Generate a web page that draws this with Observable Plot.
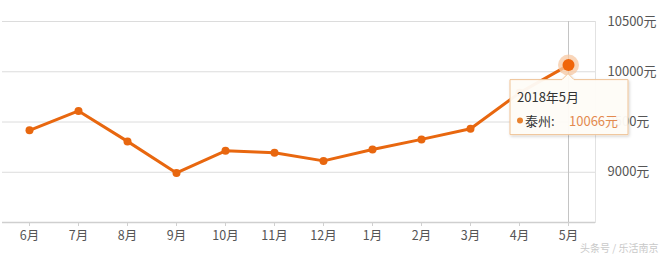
<!DOCTYPE html>
<html>
<head>
<meta charset="utf-8">
<script src="https://cdn.jsdelivr.net/npm/d3@7"></script>
<script src="https://cdn.jsdelivr.net/npm/@observablehq/plot@0.6"></script>
<style>
  html, body { margin: 0; padding: 0; background: #fff; }
  #chart { width: 663px; height: 254px; }
  svg { font-family: "Noto Sans CJK SC", "Noto Sans", sans-serif; }
</style>
</head>
<body>
<div id="chart"></div>
<script>
const months = ["6月","7月","8月","9月","10月","11月","12月","1月","2月","3月","4月","5月"];
const prices = [9417, 9610, 9307, 8993, 9213, 9193, 9113, 9227, 9327, 9433, 9790, 10066];
const yTicks = [9000, 9500, 10000, 10500];
const yDomain = [8500, 10500];
const seriesName = "泰州";
const tipTitle = "2018年5月";
const tipMonth = "5月";
const watermark = "头条号 / 乐活南京";

const data = months.map((m, i) => ({month: m, price: prices[i]}));
const tipDatum = data.find(d => d.month === tipMonth);
const lineColor = "#e8670f";

const plot = Plot.plot({
  width: 663,
  height: 254,
  marginLeft: 2,
  marginRight: 68,
  marginTop: 21,
  marginBottom: 32,
  style: {fontSize: "12px", color: "#555", background: "#fff"},
  x: {type: "point", domain: months, padding: 0.5, label: null},
  y: {domain: yDomain, label: null},
  marks: [
    Plot.gridY(yTicks, {stroke: "#dcdcdc", strokeOpacity: 1}),
    Plot.ruleY([yDomain[0]], {stroke: "#cfcfcf", strokeWidth: 1.5}),
    Plot.frame({anchor: "right", stroke: "#e2e2e2"}),
    Plot.ruleX([tipMonth], {stroke: "#c4c4c4"}),
    Plot.axisY({anchor: "right", ticks: yTicks, tickFormat: d => d + "元", tickSize: 0, tickPadding: 12, fill: "#555", fontSize: 13}),
    Plot.axisX({tickSize: 4, tickPadding: 5, stroke: "#d0d0d0", fill: "#555", fontSize: 12.5}),
    Plot.line(data, {x: "month", y: "price", stroke: lineColor, strokeWidth: 3}),
    Plot.dot(data, {x: "month", y: "price", r: 4, fill: lineColor}),
    Plot.dot([tipDatum], {x: "month", y: "price", r: 10.5, fill: "#f7c8a3", fillOpacity: 0.75}),
    Plot.dot([tipDatum], {x: "month", y: "price", r: 6, fill: "#f0650a"}),
    Plot.text([watermark], {frameAnchor: "bottom-right", dx: 63, dy: 29, lineAnchor: "bottom", fill: "#c9c9c9", fontSize: 10, textAnchor: "end"})
  ]
});
document.getElementById("chart").appendChild(plot);

// Tooltip annotation positioned from the plot's own scales
(function () {
  const xs = plot.scale("x"), ys = plot.scale("y");
  const cx = xs.apply(tipDatum.month), cy = ys.apply(tipDatum.price);
  const svg = d3.select(plot);
  const defs = svg.append("defs");
  const f = defs.append("filter").attr("id", "tipShadow").attr("x", "-20%").attr("y", "-20%").attr("width", "140%").attr("height", "150%");
  f.append("feDropShadow").attr("dx", 1).attr("dy", 1.5).attr("stdDeviation", 1.5).attr("flood-color", "#000").attr("flood-opacity", 0.18);

  const w = 118, h = 55;
  const bx0 = cx - 58, by0 = cy + 15, bx1 = bx0 + w, by1 = by0 + h;
  const g = svg.append("g").attr("text-anchor", "start");
  g.append("path")
    .attr("d", `M${bx0},${by0} H${cx - 6} L${cx},${by0 - 6} L${cx + 6},${by0} H${bx1} V${by1} H${bx0} Z`)
    .attr("fill", "#fffdf8")
    .attr("fill-opacity", 0.95)
    .attr("stroke", "#f0c395")
    .attr("stroke-width", 1)
    .attr("filter", "url(#tipShadow)");
  g.append("text").attr("x", bx0 + 7).attr("y", by0 + 22)
    .attr("fill", "#333").attr("font-size", 13).text(tipTitle);
  g.append("circle").attr("cx", bx0 + 10).attr("cy", by0 + 41).attr("r", 3).attr("fill", "#e8822e");
  g.append("text").attr("x", bx0 + 15).attr("y", by0 + 46)
    .attr("fill", "#333").attr("font-size", 13).text(seriesName + ":");
  g.append("text").attr("x", bx0 + 59).attr("y", by0 + 46)
    .attr("fill", "#e38a4f").attr("font-size", 13).text(tipDatum.price + "元");
})();
</script>
</body>
</html>
